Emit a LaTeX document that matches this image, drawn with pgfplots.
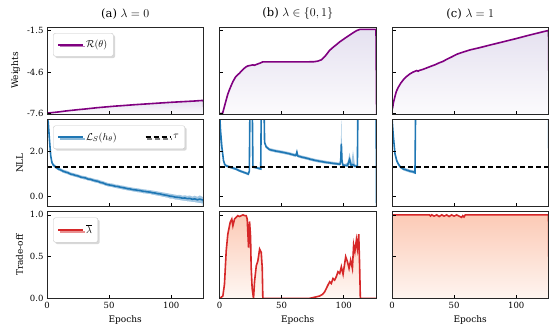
\documentclass[border=0pt]{standalone}
\usepackage{fontspec}
\setmainfont{DejaVu Serif}
\usepackage{pgfplots}
\pgfplotsset{compat=1.18}
\usepackage{pgfplotstable}
\usetikzlibrary{shadows}

\definecolor{cpurple}{HTML}{800080}
\definecolor{cblue}{HTML}{1F77B4}
\definecolor{cred}{HTML}{D62728}
\definecolor{bandblue}{HTML}{A3C7E2}
\definecolor{shadepurple}{HTML}{E5E1F0}
\definecolor{shadepurple2}{HTML}{F2F0F7}
\definecolor{shadepurple3}{HTML}{FCFBFD}
\definecolor{shadered}{HTML}{FCCAB6}
\definecolor{shadered2}{HTML}{FDEAE1}
\definecolor{shadered3}{HTML}{FEF7F3}

% weights (first/last rows sit outside the axis and close the shaded area)
\pgfplotstableread{
x y
-0.5 -7.70
0 -7.60
5 -7.55
10 -7.50
15 -7.44
20 -7.39
25 -7.34
30 -7.30
35 -7.25
40 -7.20
45 -7.16
50 -7.12
55 -7.08
60 -7.05
70 -6.98
80 -6.92
90 -6.86
100 -6.80
110 -6.75
118 -6.71
126 -6.66
126.5 -7.70
}\wA
\pgfplotstableread{
x y
-0.5 -7.70
0 -7.64
2.5 -7.60
4 -7.10
5.4 -6.62
6.7 -6.20
8 -5.88
9.5 -5.55
10.8 -5.28
13 -4.93
16.1 -4.66
19 -4.38
21 -4.22
22.8 -4.13
25 -4.09
26.9 -4.05
28 -4.08
29.5 -4.03
30.9 -3.98
33 -3.91
34.9 -3.83
50 -3.83
70 -3.83
76 -3.82
79 -3.78
82 -3.68
85 -3.42
88.7 -2.98
92 -2.72
95 -2.50
96.8 -2.36
100 -2.16
102 -2.03
104.8 -1.86
108 -1.67
110.5 -1.53
112.9 -1.45
126 -1.45
126.5 -7.70
}\wB
\pgfplotstableread{
x y
-0.5 -7.70
0 -7.35
0.5 -7.20
1.2 -6.80
2.4 -6.37
3.5 -6.00
5.1 -5.69
7 -5.40
9.1 -5.15
11.5 -4.92
14.5 -4.71
17 -4.58
19.9 -4.47
21 -4.52
22 -4.46
25 -4.38
30.6 -4.18
35 -4.03
38 -3.90
41 -3.80
44.1 -3.64
48 -3.47
52.2 -3.27
57 -3.12
62.9 -2.95
70 -2.80
80 -2.57
89.8 -2.35
100 -2.12
110 -1.88
118 -1.70
126 -1.52
126.5 -7.70
}\wC

% NLL: mean y, band lo..hi (first/last rows close the band fills below the axis)
\pgfplotstableread{
x y lo hi
-0.5 -1 -1 -1
0 3.60 3.40 3.80
1 3.30 3.15 3.50
2 2.50 2.35 2.65
3 1.80 1.70 1.95
4 1.50 1.42 1.60
5 1.40 1.33 1.48
7 1.30 1.23 1.38
9 1.22 1.15 1.30
11 1.18 1.10 1.25
13 1.12 1.04 1.19
15 1.08 1.01 1.16
17 1.05 0.97 1.12
19 0.99 0.92 1.07
21 0.97 0.89 1.04
23 0.93 0.86 1.01
25 0.91 0.83 0.98
27 0.86 0.79 0.94
29 0.84 0.76 0.91
31 0.82 0.74 0.90
33 0.77 0.70 0.85
35 0.76 0.68 0.83
37 0.72 0.64 0.80
39 0.69 0.61 0.77
41 0.67 0.59 0.75
43 0.62 0.54 0.71
45 0.60 0.52 0.68
47 0.55 0.47 0.64
49 0.52 0.44 0.60
51 0.50 0.42 0.58
53 0.48 0.40 0.57
55 0.45 0.37 0.53
57 0.44 0.35 0.52
59 0.41 0.33 0.49
61 0.39 0.30 0.48
63 0.37 0.28 0.45
65 0.34 0.26 0.43
67 0.33 0.24 0.41
69 0.30 0.22 0.39
71 0.29 0.20 0.37
73 0.27 0.18 0.36
75 0.26 0.17 0.34
77 0.23 0.14 0.32
79 0.22 0.13 0.31
81 0.20 0.11 0.29
83 0.19 0.10 0.28
85 0.16 0.07 0.26
87 0.15 0.05 0.24
89 0.12 0.03 0.22
91 0.11 0.01 0.20
93 0.08 -0.02 0.18
95 0.06 -0.04 0.16
97 0.04 -0.06 0.14
99 0.01 -0.10 0.12
101 0.00 -0.10 0.10
103 -0.03 -0.14 0.08
105 -0.04 -0.15 0.06
107 -0.05 -0.17 0.07
109 -0.08 -0.19 0.03
111 -0.07 -0.20 0.05
113 -0.10 -0.22 0.02
115 -0.09 -0.23 0.04
117 -0.13 -0.25 -0.01
119 -0.11 -0.26 0.03
121 -0.15 -0.28 -0.02
123 -0.12 -0.30 0.04
126 -0.17 -0.32 -0.04
126.5 -1 -1 -1
}\nA
\pgfplotstableread{
x y lo hi
-0.5 -1 -1 -1
0 3.80 3.60 4.00
0.8 2.95 2.85 3.05
1.9 2.20 2.12 2.28
3.2 1.60 1.53 1.67
4.2 1.42 1.36 1.48
5.4 1.36 1.30 1.42
8 1.31 1.25 1.37
10.8 1.26 1.20 1.32
13.5 1.21 1.15 1.27
16 1.14 1.08 1.20
19 1.08 1.02 1.14
22 1.02 0.96 1.08
23.2 0.99 0.92 1.06
24 1.12 1.04 1.20
24.7 5.00 4.80 5.20
26.2 5.00 4.80 5.20
26.9 1.32 1.25 1.39
28 1.30 1.24 1.36
30 1.27 1.21 1.33
32 1.24 1.18 1.30
33.2 1.22 1.16 1.28
33.8 5.00 4.80 5.20
35.6 5.00 4.80 5.20
36.3 2.40 2.30 2.50
37.6 2.20 2.13 2.27
40.3 2.08 2.01 2.15
45 2.02 1.95 2.09
51 1.96 1.89 2.03
56 1.90 1.83 1.97
60 1.84 1.77 1.91
61.5 1.82 1.75 1.89
62.3 1.97 1.88 2.06
63 1.80 1.73 1.87
66 1.75 1.68 1.82
70 1.70 1.63 1.77
74 1.64 1.57 1.71
78 1.59 1.52 1.66
82 1.55 1.48 1.62
86 1.51 1.45 1.58
90 1.48 1.42 1.55
94 1.45 1.39 1.52
97 1.43 1.37 1.50
97.6 1.60 1.45 2.00
98.1 2.35 1.70 3.60
98.6 1.60 1.45 2.00
99.2 1.40 1.34 1.46
101 1.38 1.32 1.44
103 1.37 1.30 1.50
104.8 1.65 1.40 1.95
106 1.38 1.30 1.45
107.5 1.42 1.30 2.05
109 1.35 1.28 1.42
111 1.34 1.27 1.41
111.6 5.00 4.80 5.20
126 5.00 4.80 5.20
126.5 -1 -1 -1
}\nB
\pgfplotstableread{
x y lo hi
-0.5 -1 -1 -1
0 3.50 3.30 3.70
0.5 3.10 2.95 3.25
1.1 2.65 2.50 2.80
2.4 1.90 1.80 2.00
3.8 1.59 1.52 1.66
5 1.45 1.38 1.52
6.5 1.32 1.25 1.39
9 1.22 1.15 1.29
11.8 1.17 1.10 1.24
14.5 1.12 1.05 1.19
17.2 1.09 1.02 1.16
18.5 1.05 0.97 1.12
19.2 5.00 4.80 5.20
126 5.00 4.80 5.20
126.5 -1 -1 -1
}\nC

% trade-off
\pgfplotstableread{
x y
0 0
2.7 0.03
4 0.17
5.4 0.57
6.7 0.77
8.6 0.91
9.9 0.95
10.8 0.87
12.1 0.95
13.4 0.97
14.8 0.99
16 0.98
17.5 0.99
19 1.00
20.2 0.99
21.5 0.99
22.3 0.95
23.4 0.61
24.2 0.92
25 0.74
25.5 0.37
26.3 0.12
27.4 0.00
28.2 0.20
29.6 0.39
30.9 0.45
32.3 0.59
33.6 0.55
34.4 0.37
34.9 0.00
72 0.00
75 0.01
78 0.02
80.6 0.03
83 0.05
84.7 0.08
86 0.12
87.3 0.16
88.7 0.20
90 0.18
91.4 0.24
92.7 0.22
94 0.26
95.4 0.32
96.8 0.30
98.1 0.38
99.5 0.29
101.6 0.50
103 0.44
104.3 0.36
105.6 0.46
107 0.36
108 0.64
109 0.56
110.2 0.70
111 0.60
112.1 0.77
112.8 0.40
113.4 0.00
126 0.00
}\tB
\pgfplotstableread{
x y
-0.5 -0.05
0 1.00
30 1.00
31 0.985
32 1.00
34 0.985
36 1.00
38 0.98
40 1.00
42 0.985
44 1.00
46 0.98
48 1.00
50 0.985
52 1.00
54 0.985
56 0.97
57 0.99
58 0.975
59 1.00
126 1.00
126.5 -0.05
}\tC

\pgfplotsset{
  panel/.style={
    scale only axis, width=156.5pt, height=87pt, anchor=south west,
    xmin=0, xmax=126, xtick={0,50,100},
    tick align=inside, tick pos=left, axis on top,
    major tick length=3.5pt,
    tick style={black, line width=0.6pt},
    axis line style={line width=0.8pt, black!85},
    tick label style={font=\fontsize{8.5}{10}\selectfont},
    label style={font=\fontsize{9}{10}\selectfont},
    title style={font=\fontsize{11.5}{12}\selectfont, yshift=-2pt},
    /pgf/number format/assume math mode=true,
    legend style={at={(0.04,0.93)}, anchor=north west, draw=gray!45,
      rounded corners=2pt, fill=white, inner xsep=4pt, inner ysep=5pt,
      drop shadow={shadow xshift=1.8pt, shadow yshift=-1.8pt, fill=gray!60}},
    legend cell align=left,
    legend image code/.code={\draw[##1] (0pt,0pt) -- (25pt,0pt);},
  },
  wrow/.style={panel, ymin=-7.66, ymax=-1.27, ytick={-7.64,-4.59,-1.54},
    xticklabels={}},
  nrow/.style={panel, ymin=-0.45, ymax=3.42, ytick={0,2}, xticklabels={}},
  trow/.style={panel, ymin=0, ymax=1.04, ytick={0,0.5,1}, xlabel={Epochs}},
  wshade/.style={draw=none, top color=shadepurple, middle color=shadepurple2,
    bottom color=shadepurple3, forget plot},
  tshade/.style={draw=none, top color=shadered, middle color=shadered2,
    bottom color=shadered3, forget plot},
  wline/.style={cpurple, line width=1.6pt},
  nline/.style={cblue, line width=1.6pt},
  tline/.style={cred, line width=1.6pt},
  tau/.style={black, line width=1.6pt, dash pattern=on 5pt off 3pt},
}

\begin{document}
\begin{tikzpicture}
\path (0,0) rectangle (555pt,333pt);

% ---- row 1: weights
\begin{axis}[wrow, at={(47pt,219pt)}, title={(a) $\lambda = 0$},
  yticklabels={-7.6,-4.6,-1.5}, ylabel={Weights}]
\addplot[wshade] table {\wA};
\addplot[wline] table {\wA};
\legend{$\mathcal{R}(\theta)$}
\end{axis}
\begin{axis}[wrow, at={(219.5pt,219pt)}, title={(b) $\lambda \in \{0, 1\}$},
  yticklabels={}]
\addplot[wshade] table {\wB};
\addplot[wline] table {\wB};
\end{axis}
\begin{axis}[wrow, at={(392pt,219pt)}, title={(c) $\lambda = 1$},
  yticklabels={}]
\addplot[wshade] table {\wC};
\addplot[wline] table {\wC};
\end{axis}

% ---- row 2: NLL (band = blue fill under hi, white fill under lo)
\begin{axis}[nrow, at={(47pt,126.5pt)}, yticklabels={0.0,2.0}, ylabel={NLL},
  legend columns=2]
\addplot[fill=bandblue, draw=none, forget plot] table[x=x, y=hi] {\nA};
\addplot[fill=white, draw=none, forget plot] table[x=x, y=lo] {\nA};
\addplot[nline] table[x=x, y=y] {\nA};
\addplot[tau] coordinates {(0,1.32) (126,1.32)};
\legend{$\mathcal{L}_S(h_\theta)$\makebox[26pt]{}, $\tau$}
\end{axis}
\begin{axis}[nrow, at={(219.5pt,126.5pt)}, yticklabels={}]
\addplot[fill=bandblue, draw=none, forget plot] table[x=x, y=hi] {\nB};
\addplot[fill=white, draw=none, forget plot] table[x=x, y=lo] {\nB};
\addplot[nline] table[x=x, y=y] {\nB};
\addplot[tau] coordinates {(0,1.32) (126,1.32)};
\end{axis}
\begin{axis}[nrow, at={(392pt,126.5pt)}, yticklabels={}]
\addplot[fill=bandblue, draw=none, forget plot] table[x=x, y=hi] {\nC};
\addplot[fill=white, draw=none, forget plot] table[x=x, y=lo] {\nC};
\addplot[nline] table[x=x, y=y] {\nC};
\addplot[tau] coordinates {(0,1.32) (126,1.32)};
\end{axis}

% ---- row 3: trade-off
\begin{axis}[trow, at={(47pt,34.5pt)}, yticklabels={0.0,0.5,1.0}, ylabel={Trade-off}]
\addplot[tline] coordinates {(0,0) (126,0)};
\legend{$\overline{\lambda}$}
\end{axis}
\begin{axis}[trow, at={(219.5pt,34.5pt)}, yticklabels={}]
\addplot[tshade] table {\tB};
\addplot[tline] table {\tB};
\end{axis}
\begin{axis}[trow, at={(392pt,34.5pt)}, yticklabels={}]
\addplot[tshade] table {\tC};
\addplot[tline] table {\tC};
\end{axis}
\end{tikzpicture}
\end{document}
